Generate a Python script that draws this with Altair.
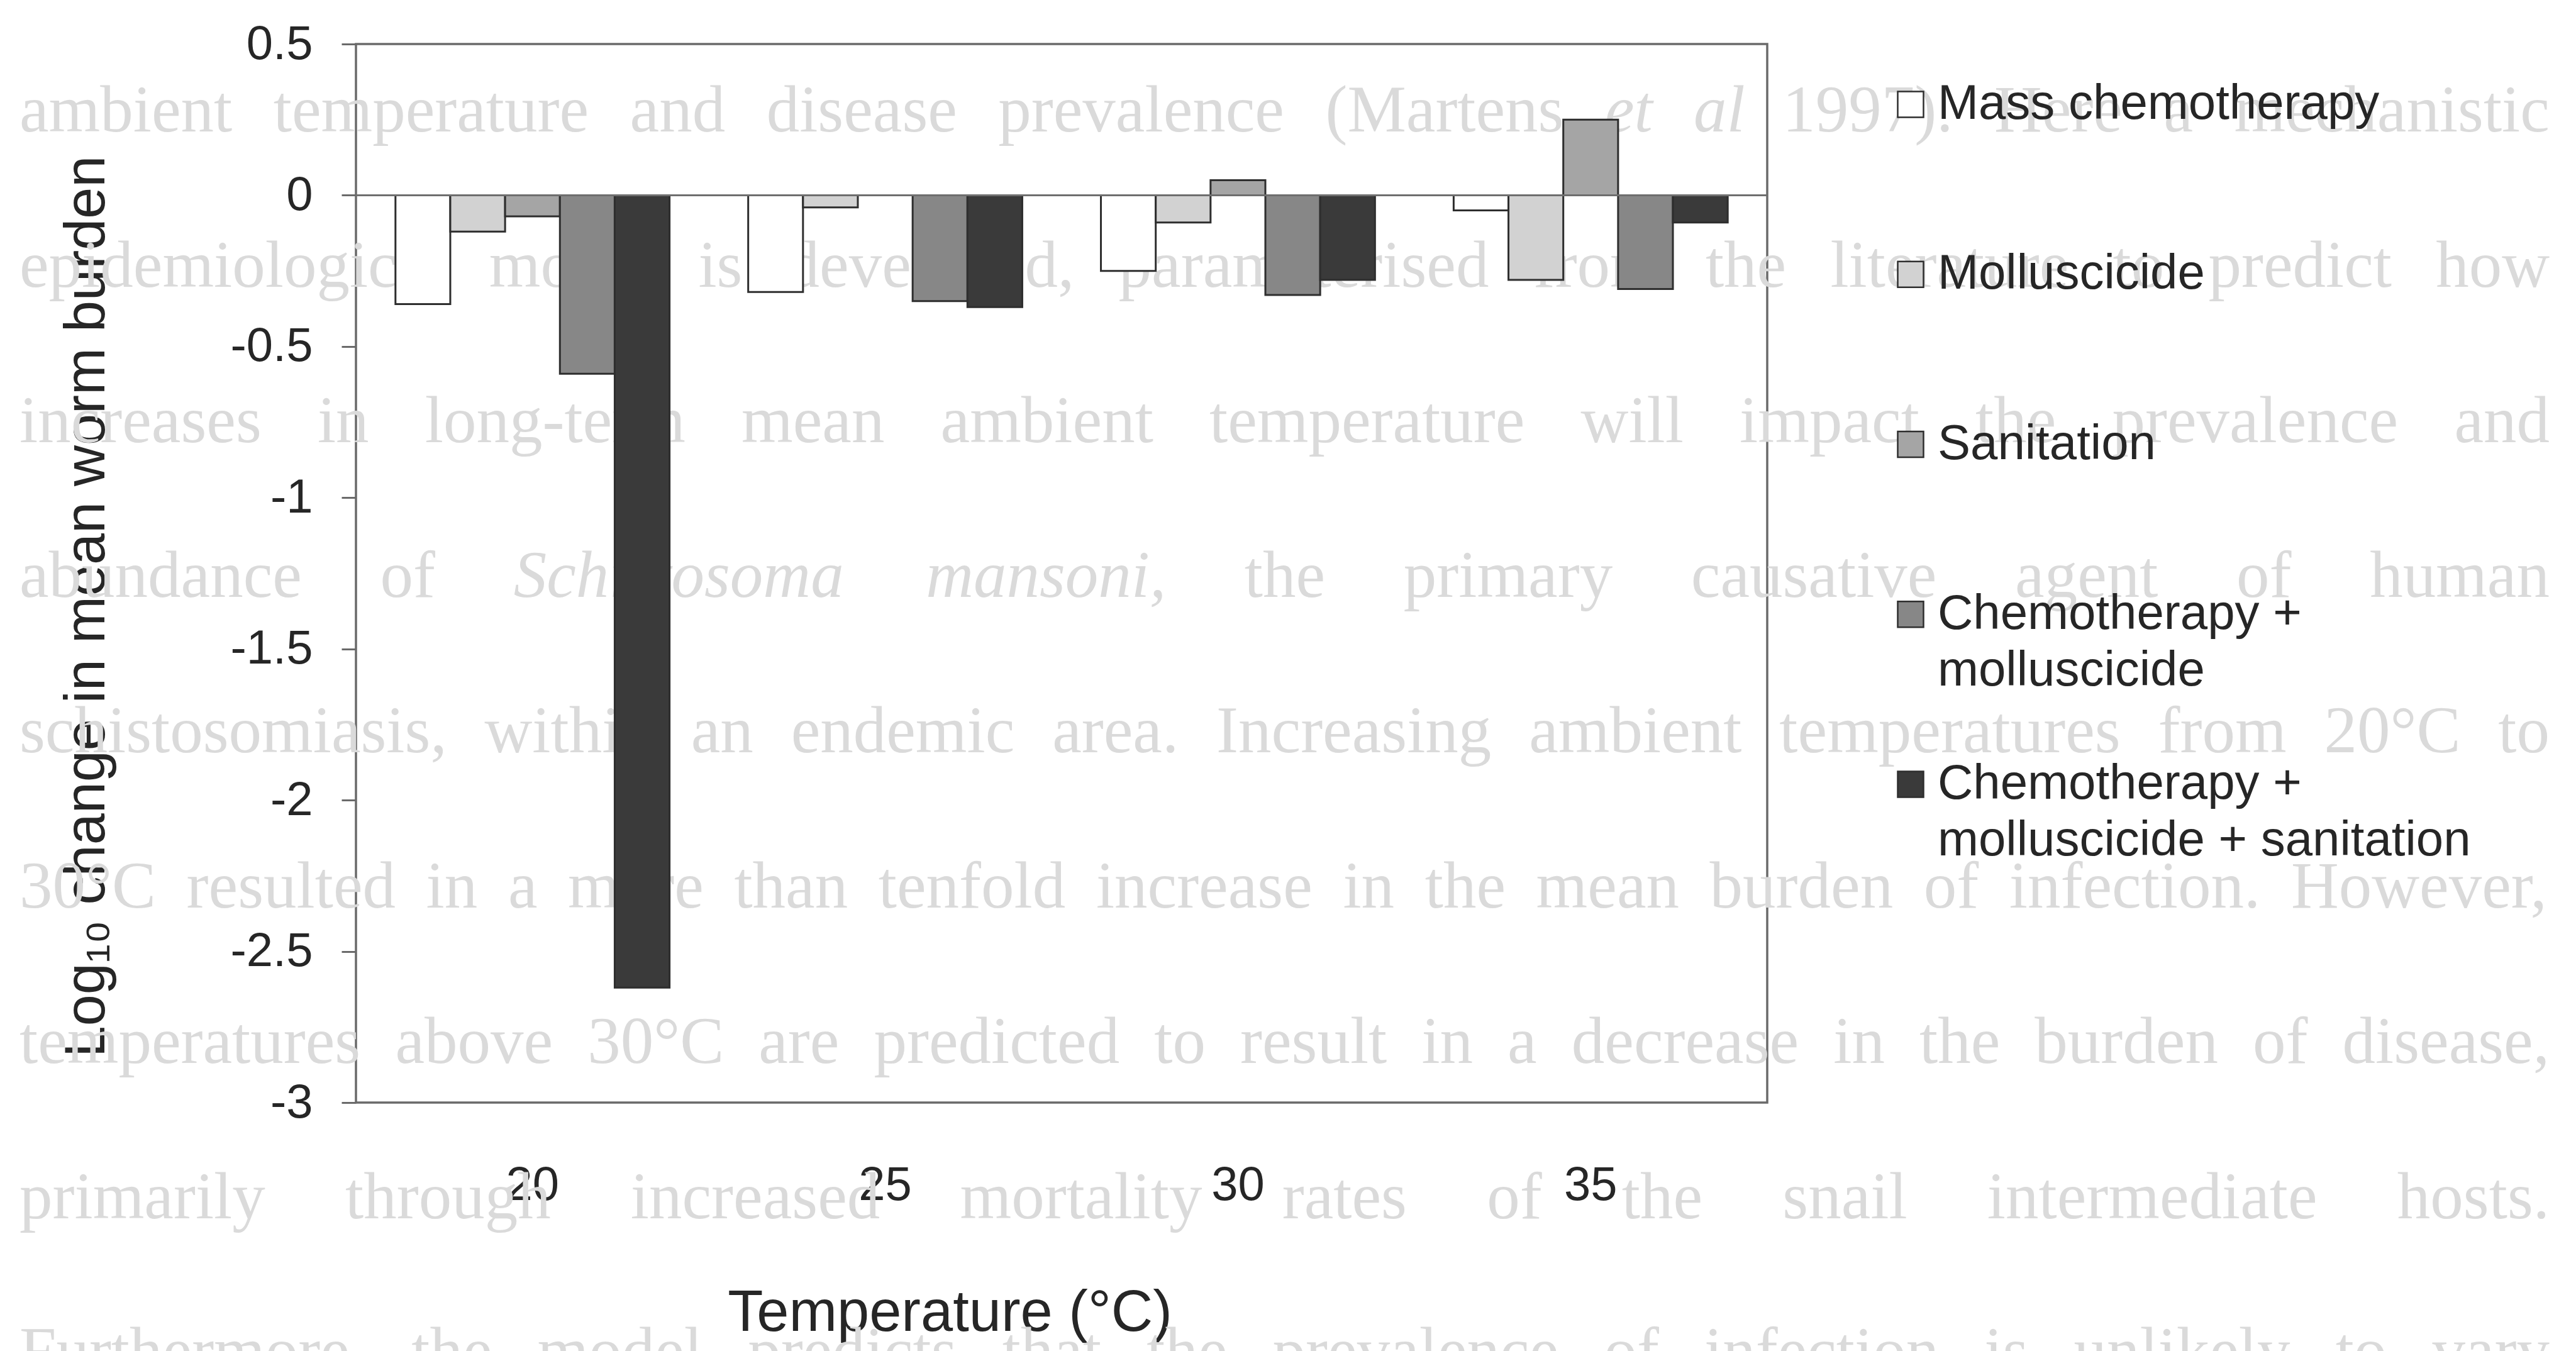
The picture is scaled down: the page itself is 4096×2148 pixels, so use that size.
import altair as alt
import pandas as pd

# ---------------------------------------------------------------- chart data
temperatures = ["20", "25", "30", "35"]
interventions = [
    "Mass chemotherapy",
    "Molluscicide",
    "Sanitation",
    "Chemotherapy + molluscicide",
    "Chemotherapy + molluscicide + sanitation",
]
mass_chemotherapy = [-0.36, -0.32, -0.25, -0.05]
molluscicide = [-0.12, -0.04, -0.09, -0.28]
sanitation = [-0.07, 0.0, 0.05, 0.25]
chemo_molluscicide = [-0.59, -0.35, -0.33, -0.31]
chemo_molluscicide_sanitation = [-2.62, -0.37, -0.28, -0.09]

fills = ["#ffffff", "#d2d2d2", "#a5a5a5", "#878787", "#3a3a3a"]
legend_lines = [
    ["Mass chemotherapy"],
    ["Molluscicide"],
    ["Sanitation"],
    ["Chemotherapy +", "molluscicide"],
    ["Chemotherapy +", "molluscicide + sanitation"],
]
y_ticks = [0.5, 0, -0.5, -1, -1.5, -2, -2.5, -3]

# page text printed behind the figure
page_lines = [
    "ambient temperature and disease prevalence (Martens et al 1997). Here a mechanistic",
    "epidemiological model is developed, parameterised from the literature to predict how",
    "increases in long-term mean ambient temperature will impact the prevalence and",
    "abundance of Schistosoma mansoni, the primary causative agent of human",
    "schistosomiasis, within an endemic area. Increasing ambient temperatures from 20°C to",
    "30°C resulted in a more than tenfold increase in the mean burden of infection. However,",
    "temperatures above 30°C are predicted to result in a decrease in the burden of disease,",
    "primarily through increased mortality rates of the snail intermediate hosts.",
    "Furthermore, the model predicts that the prevalence of infection is unlikely to vary",
]
italic_words = {"et", "al", "Schistosoma", "mansoni,"}

# ---------------------------------------------------------------- geometry
WIN_W, WIN_H = 4096, 2148
PAD_L, PAD_T = 566, 70
PLOT_W, PLOT_H = 2244, 1683

TEXT_COLOR = "#262626"
FRAME_COLOR = "#6a6a6a"

# ---------------------------------------------------------------- bar table
series = [mass_chemotherapy, molluscicide, sanitation,
          chemo_molluscicide, chemo_molluscicide_sanitation]
bars_df = pd.DataFrame(
    [
        {"temperature": t, "intervention": name, "change": vals[k]}
        for name, vals in zip(interventions, series)
        for k, t in enumerate(temperatures)
    ]
)

colour = alt.Color(
    "intervention:N",
    scale=alt.Scale(domain=interventions, range=fills),
    legend=None,
)

bars = alt.Chart(bars_df).mark_bar(stroke="#2e2e2e", strokeWidth=3).encode(
    x=alt.X(
        "temperature:N",
        sort=temperatures,
        scale=alt.Scale(paddingInner=0.223, paddingOuter=0.112),
        axis=alt.Axis(
            title="Temperature (°C)",
            titleFontSize=92,
            titleColor=TEXT_COLOR,
            titleFontWeight="normal",
            titleX=944,
            titleY=362,
            titleAlign="center",
            titleBaseline="alphabetic",
            labelAngle=0,
            labelFontSize=76,
            labelColor=TEXT_COLOR,
            labelPadding=94,
            ticks=False,
            domain=False,
            grid=False,
        ),
    ),
    xOffset=alt.XOffset(
        "intervention:N",
        sort=interventions,
        scale=alt.Scale(paddingInner=0, paddingOuter=0),
    ),
    y=alt.Y(
        "change:Q",
        scale=alt.Scale(domain=[-3, 0.5], nice=False, zero=False),
        axis=alt.Axis(
            title="Log₁₀ change in mean worm burden",
            titleFontSize=90,
            titleColor=TEXT_COLOR,
            titleFontWeight="normal",
            titleAngle=270,
            titleX=-401,
            titleY=894,
            titleAlign="center",
            titleBaseline="alphabetic",
            values=y_ticks,
            labelExpr="datum.value + ''",
            labelFontSize=76,
            labelColor=TEXT_COLOR,
            labelPadding=46,
            tickSize=23,
            tickWidth=3,
            tickColor=FRAME_COLOR,
            domain=False,
            grid=False,
        ),
    ),
    y2=alt.datum(0),
    color=colour,
)

zero_line = alt.Chart(pd.DataFrame({"change": [0.0]})).mark_rule(
    color="#6e6e6e", strokeWidth=3
).encode(y=alt.Y("change:Q"))

plot = alt.layer(bars, zero_line)

# ---------------------------------------------------------------- legend
LINE_STEP = 0.333  # second text line, in legend slots
legend_rows = []
for i, (name, lines) in enumerate(zip(interventions, legend_lines)):
    for j, txt in enumerate(lines):
        legend_rows.append(
            {"intervention": name, "slot": i + j * LINE_STEP, "line": j, "label": txt}
        )
legend_df = pd.DataFrame(legend_rows)

legend_y = alt.Scale(domain=[0, 4], range=[96, 1177], zero=False, nice=False)

legend_symbols = alt.Chart(legend_df).transform_filter("datum.line == 0").mark_square(
    size=1681, stroke="#2e2e2e", strokeWidth=2.5, opacity=1
).encode(
    x=alt.value(2472),
    y=alt.Y("slot:Q", scale=legend_y, axis=None),
    color=colour,
)

legend_labels = alt.Chart(legend_df).mark_text(
    font="Liberation Sans", fontSize=78, color=TEXT_COLOR,
    align="left", baseline="middle",
).encode(
    x=alt.value(2515),
    y=alt.Y("slot:Q", scale=legend_y, axis=None),
    text="label:N",
)

legend = alt.layer(legend_symbols, legend_labels)

# ---------------------------------------------------------------- page text
PARA_FONT = 105
PARA_LEFT, PARA_RIGHT = 31, 4054
PARA_FIRST_BASE, PARA_LEADING = 209, 246.8

_lower = dict(zip("abcdefghijklmnopqrstuvwxyz",
                  [444, 500, 444, 500, 444, 333, 500, 500, 278, 278, 500, 278, 778,
                   500, 500, 500, 500, 333, 389, 278, 500, 500, 722, 500, 500, 444]))
_upper = dict(zip("ABCDEFGHIJKLMNOPQRSTUVWXYZ",
                  [722, 667, 667, 722, 611, 556, 722, 722, 333, 389, 722, 611, 889,
                   722, 722, 556, 722, 667, 556, 611, 722, 722, 944, 722, 722, 611]))
_other = {",": 250, ".": 250, "(": 333, ")": 333, "-": 333, "°": 400, " ": 250}


def word_width(word):
    units = 0
    for ch in word:
        if ch in _lower:
            units += _lower[ch]
        elif ch in _upper:
            units += _upper[ch]
        elif ch.isdigit():
            units += 500
        else:
            units += _other.get(ch, 500)
    return units * PARA_FONT / 1000.0


page_rows = []
for n, line in enumerate(page_lines):
    words = line.split(" ")
    widths = [word_width(w) for w in words]
    gap = (PARA_RIGHT - PARA_LEFT - sum(widths)) / (len(words) - 1)
    gap = max(gap, 0.25 * PARA_FONT)
    x = PARA_LEFT
    for w, wd in zip(words, widths):
        page_rows.append(
            {"px": x, "py": PARA_FIRST_BASE + n * PARA_LEADING, "word": w,
             "italic": w in italic_words}
        )
        x += wd + gap
page_df = pd.DataFrame(page_rows)

page_x = alt.Scale(domain=[PAD_L, PAD_L + PLOT_W], range=[0, PLOT_W], zero=False, nice=False)
page_y = alt.Scale(domain=[PAD_T, PAD_T + PLOT_H], range=[0, PLOT_H], zero=False, nice=False)


def page_layer(italic):
    return alt.Chart(page_df).transform_filter(
        "datum.italic" if italic else "!datum.italic"
    ).mark_text(
        font="Liberation Serif", fontSize=PARA_FONT, color="#dadada",
        fontStyle="italic" if italic else "normal",
        align="left", baseline="alphabetic",
    ).encode(
        x=alt.X("px:Q", scale=page_x, axis=None),
        y=alt.Y("py:Q", scale=page_y, axis=None),
        text="word:N",
    )


page_text = alt.layer(page_layer(False), page_layer(True))

# ---------------------------------------------------------------- assemble
chart = (
    alt.layer(page_text, plot, legend)
    .resolve_scale(x="independent", y="independent")
    .properties(
        width=PLOT_W,
        height=PLOT_H,
        autosize=alt.AutoSizeParams(type="none"),
        padding={"left": PAD_L, "top": PAD_T,
                 "right": WIN_W - PAD_L - PLOT_W, "bottom": WIN_H - PAD_T - PLOT_H},
        background="#ffffff",
    )
    .configure_view(stroke=FRAME_COLOR, strokeWidth=3.5)
    .configure_axis(labelFont="Liberation Sans", titleFont="Liberation Sans")
)

chart.save("out.html", embed_options={"renderer": "svg", "actions": False})
